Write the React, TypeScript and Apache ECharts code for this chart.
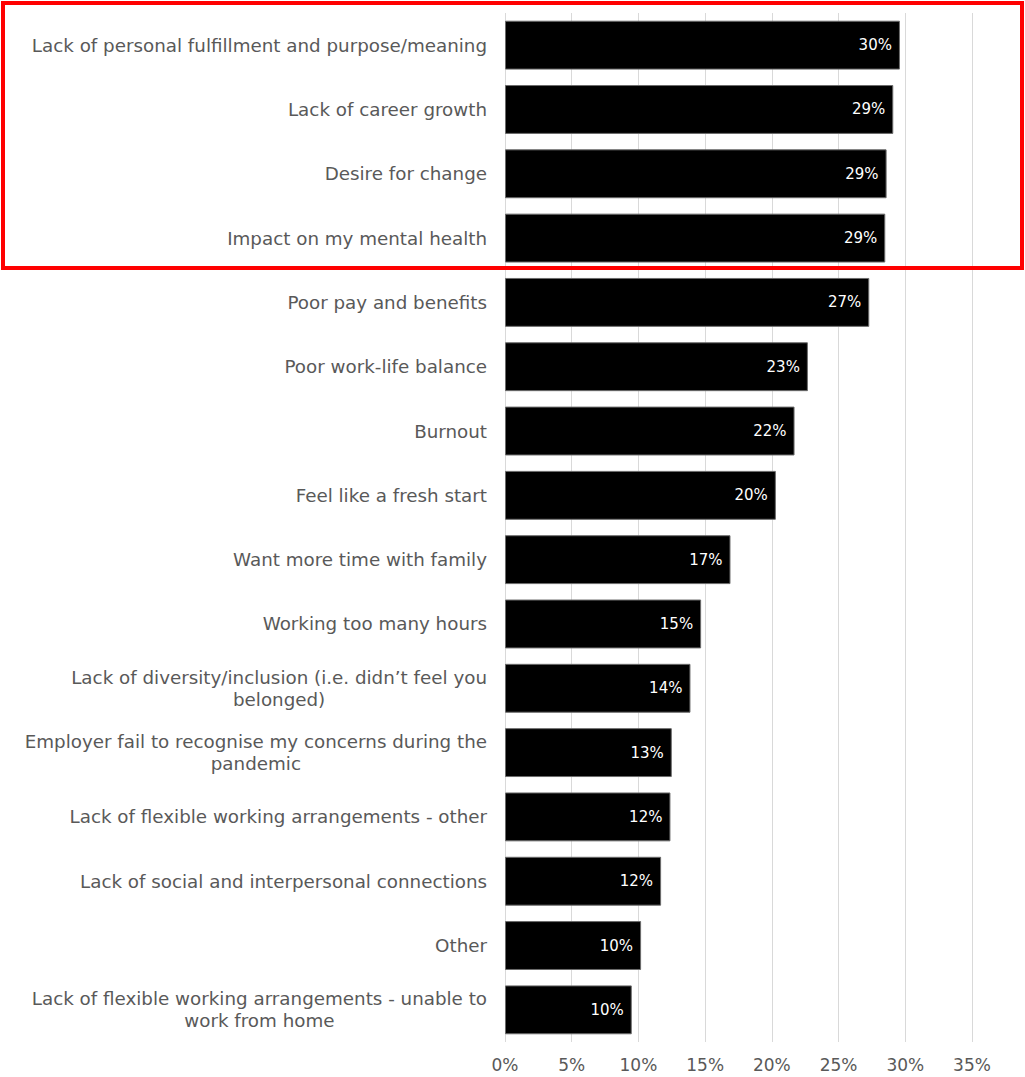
import React, { useEffect, useRef } from "react";
import * as echarts from "echarts";

const categories: string[] = [
  "Lack of personal fulfillment and purpose/meaning",
  "Lack of career growth",
  "Desire for change",
  "Impact on my mental health",
  "Poor pay and benefits",
  "Poor work-life balance",
  "Burnout",
  "Feel like a fresh start",
  "Want more time with family",
  "Working too many hours",
  "Lack of diversity/inclusion (i.e. didn’t feel you\nbelonged)",
  "Employer fail to recognise my concerns during the\npandemic",
  "Lack of flexible working arrangements - other",
  "Lack of social and interpersonal connections",
  "Other",
  "Lack of flexible working arrangements - unable to\nwork from home",
];

const values: number[] = [
  29.6, 29.1, 28.6, 28.5, 27.3, 22.7, 21.7, 20.3, 16.9, 14.7, 13.9, 12.5, 12.4,
  11.7, 10.2, 9.5,
];

const xTicks = { min: 0, max: 35, interval: 5 };

const FONT = "'DejaVu Sans', 'Noto Sans', sans-serif";

export default function App() {
  const ref = useRef<HTMLDivElement>(null);
  useEffect(() => {
    document.body.style.margin = "0";
    if (!ref.current) return;
    const chart = echarts.init(ref.current, null, { renderer: "svg" });
    chart.setOption({
      animation: false,
      backgroundColor: "#ffffff",
      grid: { left: 505, right: 53, top: 13, bottom: 35, containLabel: false },
      xAxis: {
        type: "value",
        min: xTicks.min,
        max: xTicks.max,
        interval: xTicks.interval,
        axisLine: { show: false },
        axisTick: { show: false },
        splitLine: { show: true, lineStyle: { color: "#d9d9d9", width: 1 } },
        axisLabel: {
          formatter: "{value}%",
          color: "#595959",
          fontSize: 17,
          fontFamily: FONT,
          margin: 14,
        },
      },
      yAxis: {
        type: "category",
        data: categories,
        inverse: true,
        axisLine: { show: false },
        axisTick: { show: false },
        axisLabel: {
          margin: 18,
          formatter: (v: string) =>
            v
              .split("\n")
              .map((s) => "{c|" + s + "}")
              .join("\n"),
          rich: {
            c: {
              align: "center",
              color: "#595959",
              fontSize: 18.3,
              fontFamily: FONT,
              lineHeight: 22,
            },
          },
        },
      },
      series: [
        {
          type: "bar",
          data: values,
          barCategoryGap: "24%",
          itemStyle: { color: "#000000", borderColor: "#6b6b6b", borderWidth: 1 },
          label: {
            show: true,
            position: "insideRight",
            distance: 8,
            color: "#ffffff",
            fontSize: 15,
            fontFamily: FONT,
            formatter: (p: any) => Math.round(p.value) + "%",
          },
        },
      ],
      graphic: [
        {
          type: "rect",
          shape: { x: 3, y: 3, width: 1019, height: 265 },
          style: { fill: "none", stroke: "#ff0000", lineWidth: 4 },
          z: 100,
        },
      ],
    });
    return () => chart.dispose();
  }, []);
  return <div ref={ref} style={{ width: 1025, height: 1077 }} />;
}
